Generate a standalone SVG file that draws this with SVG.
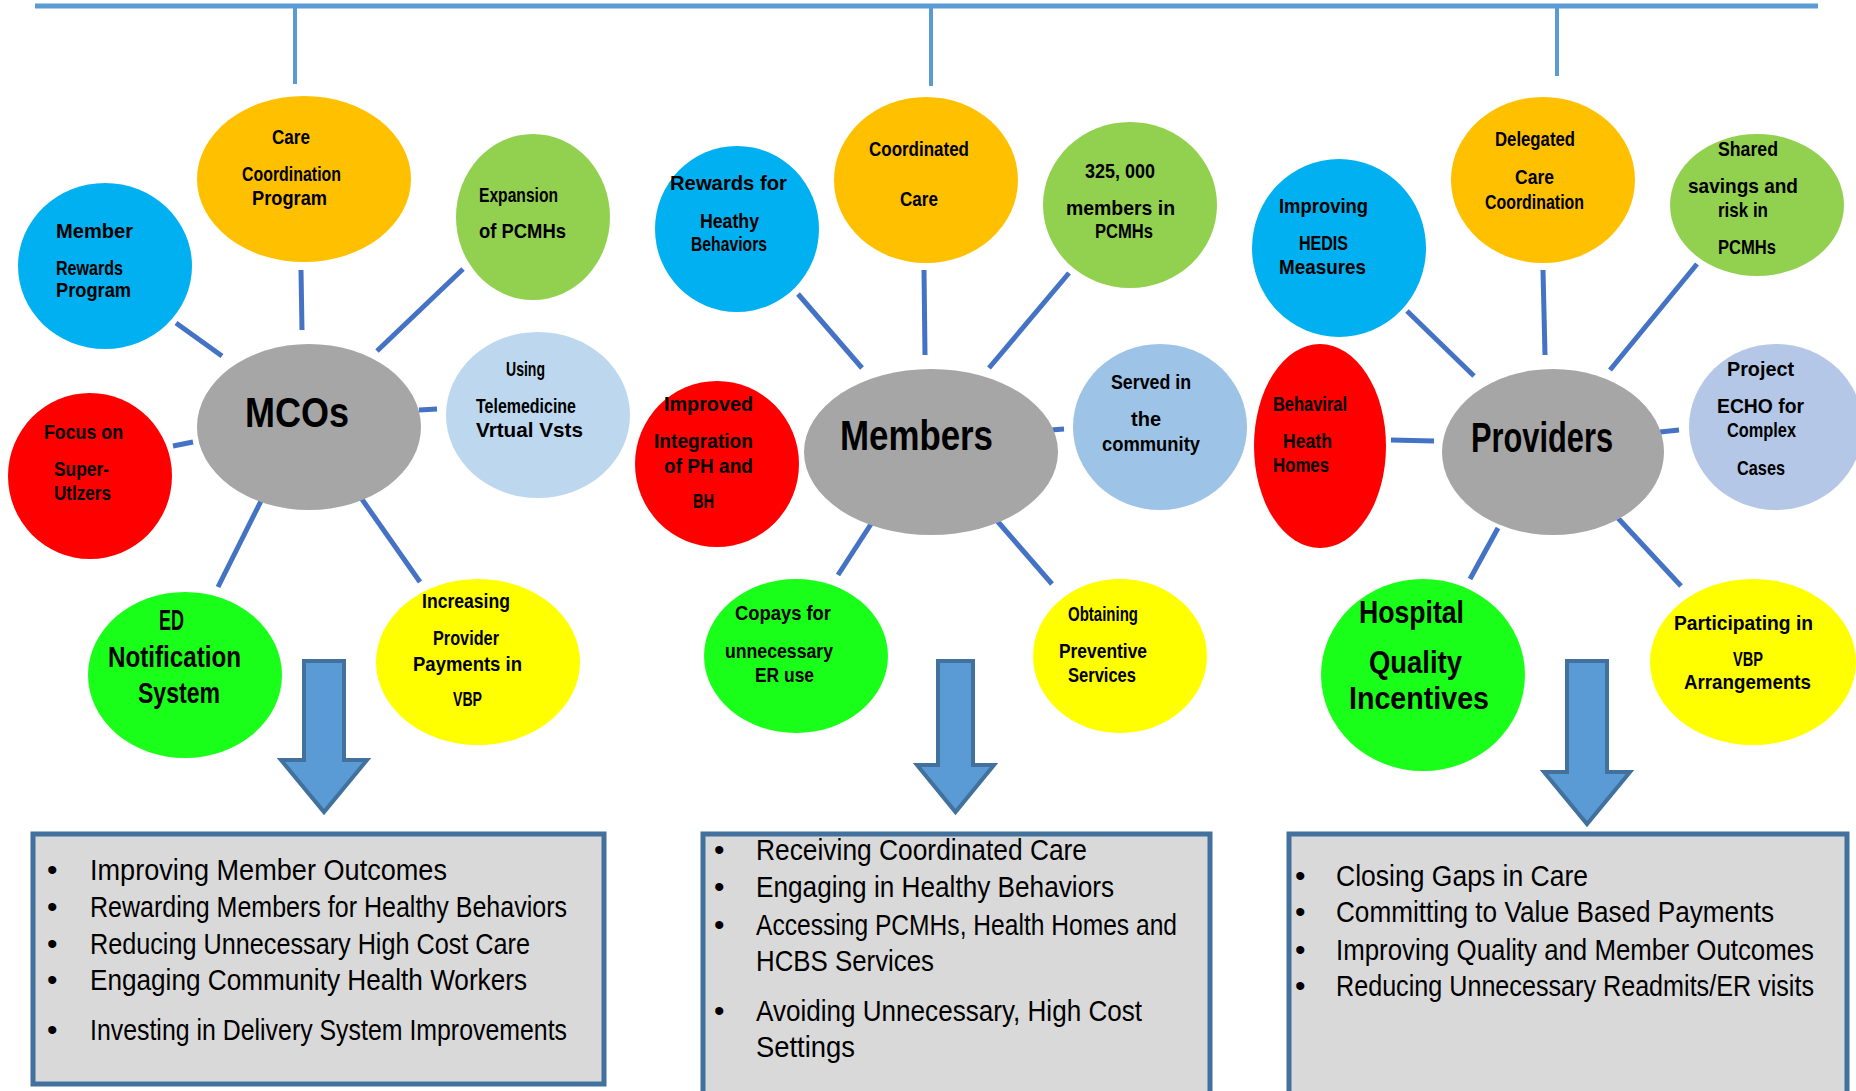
<svg xmlns="http://www.w3.org/2000/svg" width="1856" height="1091" viewBox="0 0 1856 1091">
<style>
.t{font-family:"Liberation Sans Narrow","Liberation Sans",Arial,sans-serif;font-weight:bold;font-size:21px;fill:#000}
.big{font-size:42px}
.mid{font-size:29px}
.hq{font-size:32px}
.li{font-family:"Liberation Sans Narrow","Liberation Sans",Arial,sans-serif;font-size:30px;fill:#000}
.sp{stroke:#4472c4;stroke-width:5;fill:none}
.tree{stroke:#5b9bd5;fill:none}
.arr{fill:#5b9bd5;stroke:#41719c;stroke-width:4;stroke-linejoin:miter}
.box{fill:#d9d9d9;stroke:#41719c;stroke-width:5}
</style>
<rect width="1856" height="1091" fill="#fff"/>
<g id="connectors">
  <line class="tree" x1="35" y1="6" x2="1818" y2="6" stroke-width="5"/>
  <line class="tree" x1="295" y1="6" x2="295" y2="84" stroke-width="4"/>
  <line class="tree" x1="931" y1="6" x2="931" y2="86" stroke-width="4"/>
  <line class="tree" x1="1557" y1="6" x2="1557" y2="76" stroke-width="4"/>
  <line class="sp" x1="176" y1="323" x2="222" y2="356"/>
  <line class="sp" x1="301" y1="270" x2="302" y2="330"/>
  <line class="sp" x1="463" y1="269" x2="377" y2="351"/>
  <line class="sp" x1="419" y1="410" x2="437" y2="409"/>
  <line class="sp" x1="173" y1="446" x2="193" y2="442"/>
  <line class="sp" x1="262" y1="499" x2="218" y2="587"/>
  <line class="sp" x1="359" y1="495" x2="420" y2="582"/>
  <line class="sp" x1="798" y1="294" x2="862" y2="368"/>
  <line class="sp" x1="924" y1="270" x2="925" y2="355"/>
  <line class="sp" x1="1069" y1="273" x2="989" y2="368"/>
  <line class="sp" x1="1051" y1="430" x2="1064" y2="429"/>
  <line class="sp" x1="873" y1="521" x2="838" y2="575"/>
  <line class="sp" x1="992" y1="515" x2="1052" y2="584"/>
  <line class="sp" x1="1407" y1="311" x2="1474" y2="376"/>
  <line class="sp" x1="1543" y1="270" x2="1545" y2="355"/>
  <line class="sp" x1="1697" y1="264" x2="1610" y2="370"/>
  <line class="sp" x1="1391" y1="440" x2="1434" y2="441"/>
  <line class="sp" x1="1660" y1="432" x2="1679" y2="430"/>
  <line class="sp" x1="1498" y1="528" x2="1470" y2="579"/>
  <line class="sp" x1="1616" y1="516" x2="1681" y2="586"/>
  <path class="arr" d="M304,661 H344 V760 H367 L324,812 L281,760 H304 Z"/>
  <path class="arr" d="M938,661 H973 V765 H994 L955.5,812 L917,765 H938 Z"/>
  <path class="arr" d="M1567,661 H1607 V772 H1630 L1587,824 L1544,772 H1567 Z"/>
</g>
<g id="mcos">
  <ellipse cx="309" cy="427" rx="112" ry="83" fill="#a6a6a6"/>
  <text class="t big" x="245" y="427" textLength="104" lengthAdjust="spacingAndGlyphs">MCOs</text>
</g>
<g id="care-coordination-program">
  <ellipse cx="304" cy="179" rx="107" ry="83" fill="#ffc000"/>
  <text class="t" x="272" y="144" textLength="38" lengthAdjust="spacingAndGlyphs">Care</text>
  <text class="t" x="242" y="181" textLength="99" lengthAdjust="spacingAndGlyphs">Coordination</text>
  <text class="t" x="252" y="205" textLength="75" lengthAdjust="spacingAndGlyphs">Program</text>
</g>
<g id="member-rewards-program">
  <ellipse cx="105" cy="266" rx="87" ry="83" fill="#00b0f0"/>
  <text class="t" x="56" y="238" textLength="77" lengthAdjust="spacingAndGlyphs">Member</text>
  <text class="t" x="56" y="275" textLength="67" lengthAdjust="spacingAndGlyphs">Rewards</text>
  <text class="t" x="56" y="297" textLength="75" lengthAdjust="spacingAndGlyphs">Program</text>
</g>
<g id="expansion-pcmhs">
  <ellipse cx="533" cy="217" rx="77" ry="83" fill="#92d050"/>
  <text class="t" x="479" y="202" textLength="79" lengthAdjust="spacingAndGlyphs">Expansion</text>
  <text class="t" x="479" y="238" textLength="87" lengthAdjust="spacingAndGlyphs">of  PCMHs</text>
</g>
<g id="using-telemedicine">
  <ellipse cx="538" cy="415" rx="92" ry="83" fill="#bdd7ee"/>
  <text class="t" x="506" y="376" textLength="39" lengthAdjust="spacingAndGlyphs">Using</text>
  <text class="t" x="476" y="413" textLength="100" lengthAdjust="spacingAndGlyphs">Telemedicine</text>
  <text class="t" x="476" y="437" textLength="107" lengthAdjust="spacingAndGlyphs">Vrtual  Vsts</text>
</g>
<g id="focus-super-utilizers">
  <ellipse cx="90" cy="476" rx="82" ry="83" fill="#ff0000"/>
  <text class="t" x="44" y="439" textLength="79" lengthAdjust="spacingAndGlyphs">Focus  on</text>
  <text class="t" x="54" y="476" textLength="55" lengthAdjust="spacingAndGlyphs">Super-</text>
  <text class="t" x="54" y="500" textLength="57" lengthAdjust="spacingAndGlyphs">Utlzers</text>
</g>
<g id="ed-notification">
  <ellipse cx="185" cy="675" rx="97" ry="83" fill="#1aff1a"/>
  <text class="t mid" x="159" y="630" textLength="25" lengthAdjust="spacingAndGlyphs">ED</text>
  <text class="t mid" x="108" y="667" textLength="133" lengthAdjust="spacingAndGlyphs">Notification</text>
  <text class="t mid" x="138" y="703" textLength="82" lengthAdjust="spacingAndGlyphs">System</text>
</g>
<g id="increasing-provider-payments">
  <ellipse cx="478" cy="662" rx="102" ry="83" fill="#ffff00"/>
  <text class="t" x="422" y="608" textLength="88" lengthAdjust="spacingAndGlyphs">Increasing</text>
  <text class="t" x="433" y="645" textLength="66" lengthAdjust="spacingAndGlyphs">Provider</text>
  <text class="t" x="413" y="671" textLength="109" lengthAdjust="spacingAndGlyphs">Payments  in</text>
  <text class="t" x="453" y="706" textLength="29" lengthAdjust="spacingAndGlyphs">VBP</text>
</g>
<g id="mcos-outcomes">
  <rect class="box" x="33" y="834" width="571" height="250"/>
  <text class="li" x="47" y="880">•</text>
  <text class="li" x="90" y="880" textLength="357" lengthAdjust="spacingAndGlyphs">Improving Member Outcomes</text>
  <text class="li" x="47" y="917">•</text>
  <text class="li" x="90" y="917" textLength="477" lengthAdjust="spacingAndGlyphs">Rewarding Members for Healthy Behaviors</text>
  <text class="li" x="47" y="954">•</text>
  <text class="li" x="90" y="954" textLength="440" lengthAdjust="spacingAndGlyphs">Reducing Unnecessary High Cost Care</text>
  <text class="li" x="47" y="990">•</text>
  <text class="li" x="90" y="990" textLength="437" lengthAdjust="spacingAndGlyphs">Engaging Community Health Workers</text>
  <text class="li" x="47" y="1040">•</text>
  <text class="li" x="90" y="1040" textLength="477" lengthAdjust="spacingAndGlyphs">Investing in Delivery System Improvements</text>
</g>
<g id="members">
  <ellipse cx="931" cy="452" rx="127" ry="83" fill="#a6a6a6"/>
  <text class="t big" x="840" y="450" textLength="153" lengthAdjust="spacingAndGlyphs">Members</text>
</g>
<g id="coordinated-care">
  <ellipse cx="926" cy="180" rx="92" ry="83" fill="#ffc000"/>
  <text class="t" x="869" y="156" textLength="100" lengthAdjust="spacingAndGlyphs">Coordinated</text>
  <text class="t" x="900" y="206" textLength="38" lengthAdjust="spacingAndGlyphs">Care</text>
</g>
<g id="rewards-healthy-behaviors">
  <ellipse cx="737" cy="229" rx="82" ry="83" fill="#00b0f0"/>
  <text class="t" x="670" y="190" textLength="117" lengthAdjust="spacingAndGlyphs">Rewards    for</text>
  <text class="t" x="700" y="228" textLength="59" lengthAdjust="spacingAndGlyphs">Heathy</text>
  <text class="t" x="691" y="251" textLength="76" lengthAdjust="spacingAndGlyphs">Behaviors</text>
</g>
<g id="members-in-pcmhs">
  <ellipse cx="1130" cy="205" rx="87" ry="83" fill="#92d050"/>
  <text class="t" x="1085" y="178" textLength="70" lengthAdjust="spacingAndGlyphs">325, 000</text>
  <text class="t" x="1066" y="215" textLength="109" lengthAdjust="spacingAndGlyphs">members  in</text>
  <text class="t" x="1095" y="238" textLength="58" lengthAdjust="spacingAndGlyphs">PCMHs</text>
</g>
<g id="served-community">
  <ellipse cx="1160" cy="427" rx="87" ry="83" fill="#9dc3e6"/>
  <text class="t" x="1111" y="389" textLength="80" lengthAdjust="spacingAndGlyphs">Served  in</text>
  <text class="t" x="1131" y="426" textLength="30" lengthAdjust="spacingAndGlyphs">the</text>
  <text class="t" x="1102" y="451" textLength="98" lengthAdjust="spacingAndGlyphs">community</text>
</g>
<g id="improved-integration">
  <ellipse cx="717" cy="464" rx="82" ry="83" fill="#ff0000"/>
  <text class="t" x="664" y="411" textLength="89" lengthAdjust="spacingAndGlyphs">Improved</text>
  <text class="t" x="654" y="448" textLength="99" lengthAdjust="spacingAndGlyphs">Integration</text>
  <text class="t" x="664" y="473" textLength="89" lengthAdjust="spacingAndGlyphs">of  PH  and</text>
  <text class="t" x="693" y="508" textLength="21" lengthAdjust="spacingAndGlyphs">BH</text>
</g>
<g id="copays">
  <ellipse cx="796" cy="656" rx="92" ry="77" fill="#1aff1a"/>
  <text class="t" x="735" y="620" textLength="96" lengthAdjust="spacingAndGlyphs">Copays  for</text>
  <text class="t" x="725" y="658" textLength="108" lengthAdjust="spacingAndGlyphs">unnecessary</text>
  <text class="t" x="755" y="682" textLength="59" lengthAdjust="spacingAndGlyphs">ER  use</text>
</g>
<g id="obtaining-preventive">
  <ellipse cx="1120" cy="656" rx="87" ry="77" fill="#ffff00"/>
  <text class="t" x="1068" y="621" textLength="70" lengthAdjust="spacingAndGlyphs">Obtaining</text>
  <text class="t" x="1059" y="658" textLength="88" lengthAdjust="spacingAndGlyphs">Preventive</text>
  <text class="t" x="1068" y="682" textLength="68" lengthAdjust="spacingAndGlyphs">Services</text>
</g>
<g id="members-outcomes">
  <rect class="box" x="703" y="834" width="507" height="270"/>
  <text class="li" x="714" y="860">•</text>
  <text class="li" x="756" y="860" textLength="331" lengthAdjust="spacingAndGlyphs">Receiving Coordinated Care</text>
  <text class="li" x="714" y="897">•</text>
  <text class="li" x="756" y="897" textLength="358" lengthAdjust="spacingAndGlyphs">Engaging in  Healthy Behaviors</text>
  <text class="li" x="714" y="935">•</text>
  <text class="li" x="756" y="935" textLength="421" lengthAdjust="spacingAndGlyphs">Accessing PCMHs, Health Homes and</text>
  <text class="li" x="756" y="971" textLength="178" lengthAdjust="spacingAndGlyphs">HCBS Services</text>
  <text class="li" x="714" y="1021">•</text>
  <text class="li" x="756" y="1021" textLength="386" lengthAdjust="spacingAndGlyphs">Avoiding Unnecessary, High Cost</text>
  <text class="li" x="756" y="1057" textLength="99" lengthAdjust="spacingAndGlyphs">Settings</text>
</g>
<g id="providers">
  <ellipse cx="1553" cy="452" rx="111" ry="83" fill="#a6a6a6"/>
  <text class="t big" x="1471" y="452" textLength="142" lengthAdjust="spacingAndGlyphs">Providers</text>
</g>
<g id="delegated-care">
  <ellipse cx="1543" cy="180" rx="92" ry="83" fill="#ffc000"/>
  <text class="t" x="1495" y="146" textLength="80" lengthAdjust="spacingAndGlyphs">Delegated</text>
  <text class="t" x="1515" y="184" textLength="39" lengthAdjust="spacingAndGlyphs">Care</text>
  <text class="t" x="1485" y="209" textLength="99" lengthAdjust="spacingAndGlyphs">Coordination</text>
</g>
<g id="improving-hedis">
  <ellipse cx="1339" cy="248" rx="87" ry="89" fill="#00b0f0"/>
  <text class="t" x="1279" y="213" textLength="89" lengthAdjust="spacingAndGlyphs">Improving</text>
  <text class="t" x="1299" y="250" textLength="49" lengthAdjust="spacingAndGlyphs">HEDIS</text>
  <text class="t" x="1279" y="274" textLength="87" lengthAdjust="spacingAndGlyphs">Measures</text>
</g>
<g id="shared-savings">
  <ellipse cx="1757" cy="205" rx="87" ry="71" fill="#92d050"/>
  <text class="t" x="1718" y="156" textLength="60" lengthAdjust="spacingAndGlyphs">Shared</text>
  <text class="t" x="1688" y="193" textLength="110" lengthAdjust="spacingAndGlyphs">savings   and</text>
  <text class="t" x="1718" y="217" textLength="50" lengthAdjust="spacingAndGlyphs">risk  in</text>
  <text class="t" x="1718" y="254" textLength="58" lengthAdjust="spacingAndGlyphs">PCMHs</text>
</g>
<g id="behavioral-health-homes">
  <ellipse cx="1320" cy="446" rx="66" ry="102" fill="#ff0000"/>
  <text class="t" x="1273" y="411" textLength="74" lengthAdjust="spacingAndGlyphs">Behaviral</text>
  <text class="t" x="1283" y="448" textLength="49" lengthAdjust="spacingAndGlyphs">Heath</text>
  <text class="t" x="1273" y="472" textLength="56" lengthAdjust="spacingAndGlyphs">Homes</text>
</g>
<g id="project-echo">
  <ellipse cx="1776" cy="427" rx="87" ry="83" fill="#b4c7e7"/>
  <text class="t" x="1727" y="376" textLength="67" lengthAdjust="spacingAndGlyphs">Project</text>
  <text class="t" x="1717" y="413" textLength="87" lengthAdjust="spacingAndGlyphs">ECHO   for</text>
  <text class="t" x="1727" y="437" textLength="69" lengthAdjust="spacingAndGlyphs">Complex</text>
  <text class="t" x="1737" y="475" textLength="48" lengthAdjust="spacingAndGlyphs">Cases</text>
</g>
<g id="hospital-quality">
  <ellipse cx="1423" cy="675" rx="102" ry="96" fill="#1aff1a"/>
  <text class="t hq" x="1359" y="623" textLength="105" lengthAdjust="spacingAndGlyphs">Hospital</text>
  <text class="t hq" x="1369" y="673" textLength="93" lengthAdjust="spacingAndGlyphs">Quality</text>
  <text class="t hq" x="1349" y="709" textLength="140" lengthAdjust="spacingAndGlyphs">Incentives</text>
</g>
<g id="participating-vbp">
  <ellipse cx="1753" cy="662" rx="103" ry="83" fill="#ffff00"/>
  <text class="t" x="1674" y="630" textLength="139" lengthAdjust="spacingAndGlyphs">Participating     in</text>
  <text class="t" x="1733" y="666" textLength="30" lengthAdjust="spacingAndGlyphs">VBP</text>
  <text class="t" x="1684" y="689" textLength="127" lengthAdjust="spacingAndGlyphs">Arrangements</text>
</g>
<g id="providers-outcomes">
  <rect class="box" x="1289" y="834" width="558" height="270"/>
  <text class="li" x="1295" y="886">•</text>
  <text class="li" x="1336" y="886" textLength="252" lengthAdjust="spacingAndGlyphs">Closing Gaps in Care</text>
  <text class="li" x="1295" y="922">•</text>
  <text class="li" x="1336" y="922" textLength="438" lengthAdjust="spacingAndGlyphs">Committing to  Value Based Payments</text>
  <text class="li" x="1295" y="960">•</text>
  <text class="li" x="1336" y="960" textLength="478" lengthAdjust="spacingAndGlyphs">Improving Quality and Member Outcomes</text>
  <text class="li" x="1295" y="996">•</text>
  <text class="li" x="1336" y="996" textLength="478" lengthAdjust="spacingAndGlyphs">Reducing Unnecessary Readmits/ER visits</text>
</g>
</svg>
